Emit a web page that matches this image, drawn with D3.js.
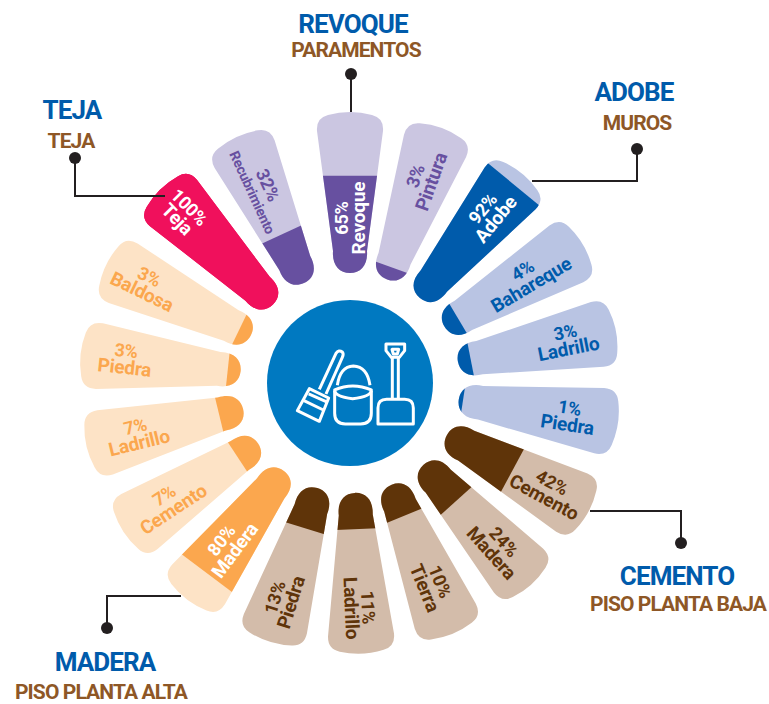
<!DOCTYPE html>
<html>
<head>
<meta charset="utf-8">
<script src="https://cdn.jsdelivr.net/npm/d3@7"></script>
<style>
html, body { margin: 0; background: #fff; }
text { font-family: Roboto, sans-serif; font-weight: 700; }
</style>
</head>
<body>
<script>
"use strict";
// clockwise from the top petal
const names = ["Revoque", "Pintura", "Adobe", "Bahareque", "Ladrillo", "Piedra", "Cemento", "Madera", "Tierra", "Ladrillo", "Piedra", "Madera", "Cemento", "Ladrillo", "Piedra", "Baldosa", "Teja", "Recubrimiento"];
const values = [65, 3, 92, 4, 3, 1, 42, 24, 10, 11, 13, 80, 7, 7, 3, 3, 100, 32];
const groups = ["par", "par", "mur", "mur", "mur", "mur", "pb", "pb", "pb", "pb", "pb", "pa", "pa", "pa", "pa", "pa", "tej", "par"];
const heads = ["REVOQUE", "ADOBE", "CEMENTO", "MADERA", "TEJA"];
const subs = ["PARAMENTOS", "MUROS", "PISO PLANTA BAJA", "PISO PLANTA ALTA", "TEJA"];

const w = 769, h = 704;
const cx = 350, cy = 383;
const tipR = 110, outR = 272;
const pale = {par: "#cbc6e1", mur: "#b9c4e3", pb: "#d3bcaa", pa: "#fde3c6", tej: "#f0105c"};
const dark = {par: "#6750a0", mur: "#005bab", pb: "#5f3409", pa: "#fba74e", tej: "#f0105c"};
// distance of each label from the centre
const labelR = [165, 217, 219, 206, 221, 221, 225, 221, 218, 225, 227, 203, 217, 219, 226, 227, 238, 214];

const svg = d3.select("body").append("svg").attr("width", w).attr("height", h).style("display", "block");

const angle = d3.scaleLinear().domain([0, 18]).range([0, 355]);
// the fill in the original grows faster than the value near the tip
const fillLen = d3.scaleLinear()
	.domain([0, 3, 13, 32, 42, 65, 80, 92, 100])
	.range([0, .08, .26, .33, .46, .6, .79, .91, 1].map(d => d * (outR - tipR)));

function petal() {
	const p = d3.path();
	const t = -tipR, o = -outR;
	p.moveTo(0, t);
	p.bezierCurveTo(11, t, 18, t - 8, 17, t - 22);
	p.lineTo(33, o + 20);
	p.quadraticCurveTo(34, o + 7, 22, o + 4);
	p.quadraticCurveTo(0, o - 2, -22, o + 4);
	p.quadraticCurveTo(-34, o + 7, -33, o + 20);
	p.lineTo(-17, t - 22);
	p.bezierCurveTo(-18, t - 8, -11, t, 0, t);
	p.closePath();
	return p.toString();
}

const rows = names.map((n, i) => ({name: n, value: values[i], group: groups[i], i: i}));
const defs = svg.append("defs");
defs.selectAll("clipPath").data(rows).enter().append("clipPath").attr("id", d => "fill" + d.i)
	.append("rect").attr("x", -50).attr("width", 100)
	.attr("y", d => -tipR - fillLen(d.value)).attr("height", d => fillLen(d.value) + 2);

const g = svg.selectAll("g.petal").data(rows).enter().append("g").attr("class", "petal")
	.attr("transform", d => "translate(" + cx + "," + cy + ") rotate(" + angle(d.i) + ")");
g.append("path").attr("d", petal()).attr("fill", d => pale[d.group]);
g.append("path").attr("d", petal()).attr("fill", d => dark[d.group]).attr("clip-path", d => "url(#fill" + d.i + ")");

const lab = svg.selectAll("g.label").data(rows).enter().append("g").attr("class", "label")
	.attr("transform", d => {
		const a = angle(d.i);
		const rad = a * Math.PI / 180;
		const x = cx + labelR[d.i] * Math.sin(rad), y = cy - labelR[d.i] * Math.cos(rad);
		const r = a < 185 ? a - 90 : a - 270;
		return "translate(" + x + "," + y + ") rotate(" + r + ")";
	})
	.attr("fill", d => d.value >= 65 ? "#fff" : dark[d.group])
	.attr("text-anchor", "middle")
	.attr("letter-spacing", -0.2);
lab.append("text").attr("y", -2).attr("font-size", d => d.name == "Recubrimiento" ? 18 : 18).text(d => d.value + "%");
lab.append("text").attr("y", d => d.name == "Recubrimiento" ? 14 : 15).attr("font-size", d => d.name == "Recubrimiento" ? 14 : 19).text(d => d.name);

// leader lines
const line = d3.line();
const callouts = [
	[[351, 74], [351, 112]],
	[[637, 149], [637, 181], [532, 181]],
	[[681, 543], [681, 511], [590, 511]],
	[[107, 628], [107, 596], [181, 596]],
	[[75, 158], [75, 196], [165, 196]]
];
svg.selectAll("path.leader").data(callouts).enter().append("path").attr("class", "leader")
	.attr("d", line).attr("fill", "none").attr("stroke", "#231f20").attr("stroke-width", 2);
svg.selectAll("circle.dot").data(callouts).enter().append("circle").attr("class", "dot")
	.attr("cx", d => d[0][0]).attr("cy", d => d[0][1]).attr("r", 6).attr("fill", "#231f20");

const headPos = [[353, 33], [634, 101], [677, 585], [105, 671], [72, 119]];
const subPos = [[356, 57], [637, 130], [678, 611], [101, 699], [71, 148]];
svg.selectAll("text.head").data(heads).enter().append("text").attr("class", "head")
	.attr("x", (d, i) => headPos[i][0]).attr("y", (d, i) => headPos[i][1])
	.attr("text-anchor", "middle").attr("font-size", 26).attr("letter-spacing", -0.9).attr("fill", "#005bab").text(d => d);
svg.selectAll("text.sub").data(subs).enter().append("text").attr("class", "sub")
	.attr("x", (d, i) => subPos[i][0]).attr("y", (d, i) => subPos[i][1])
	.attr("text-anchor", "middle").attr("font-size", 21).attr("letter-spacing", -0.9).attr("fill", "#8e5726").text(d => d);

// centre disc and tools icon
svg.append("circle").attr("cx", cx).attr("cy", cy).attr("r", 83).attr("fill", "#0079c1");
const icon = svg.append("g").attr("transform", "translate(260,300) scale(0.3333)")
	.attr("fill", "none").attr("stroke", "#fff").attr("stroke-width", 9).attr("stroke-linejoin", "round");
// brush
icon.append("path").attr("d", "M178 268L228 160Q236 148 247 156Q252 162 247 172L198 282");
icon.append("path").attr("d", "M148 266L206 294L178 364L112 332Z");
icon.append("path").attr("d", "M132 302L190 330M146 282L200 306");
// bucket
icon.append("path").attr("d", "M224 272V340Q224 372 256 372H302Q334 372 334 340V272");
icon.append("path").attr("d", "M224 270Q278 246 334 270Q334 290 278 296Q224 290 224 270Z");
icon.append("path").attr("d", "M232 256Q240 200 280 198Q322 200 330 256");
// shovel
icon.append("path").attr("d", "M378 132H434V152L418 172H394L378 152Z");
icon.append("path").attr("d", "M396 148H416L412 162H400Z");
icon.append("path").attr("d", "M397 172V298M415 172V298");
icon.append("path").attr("d", "M354 372V324Q354 298 380 298H434Q460 298 460 324V372Z");
</script>
</body>
</html>
